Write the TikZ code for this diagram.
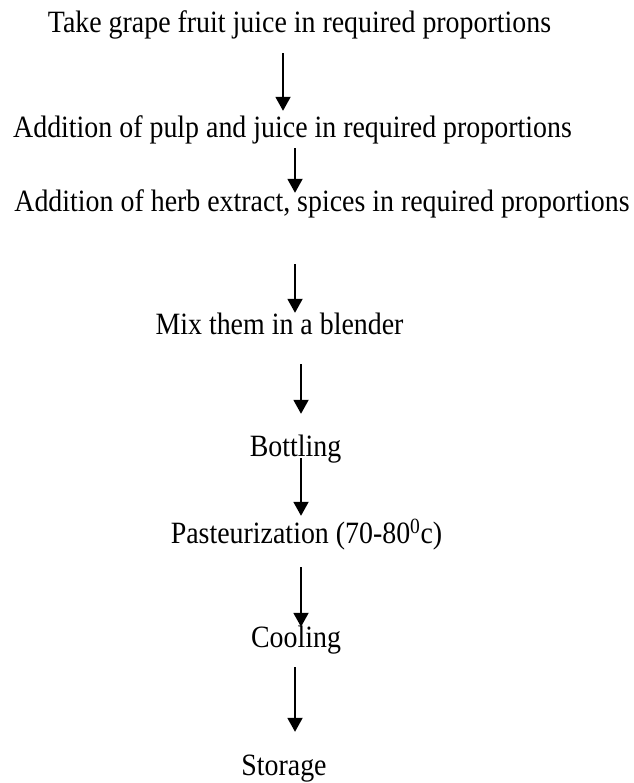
\documentclass[tikz,border=0pt]{standalone}
\usepackage{fontspec}
\setmainfont[FakeStretch=0.9]{Liberation Serif}
\usepackage{tikz}
\usetikzlibrary{arrows.meta}
\tikzstyle{procText} = [inner sep=0pt, text height=20pt, text depth=6pt,
   anchor=base, font=\fontsize{31}{37}\selectfont]
\tikzstyle{flowArrow} = [line width=1.9pt, -{Triangle[width=15pt,length=14pt]}]

\begin{document}
\begin{tikzpicture}[x=1pt,y=-1pt]
			\useasboundingbox (0,0) rectangle (633,783);
			\node[procText] (a) at (299.5,33) {Take grape fruit juice in required proportions};
			\node[procText] (b) at (292.5,138) {Addition of pulp and juice in required proportions};
			\node[procText] (c) at (322,212) {Addition of herb extract, spices in required proportions};
			\node[procText] (d) at (279.5,334) {Mix them in a blender};
			\node[procText] (e) at (295.5,456) {Bottling};
			\node[procText] (f) at (306.5,543) {Pasteurization (70-80\textsuperscript{0}c)};
			\node[procText] (g) at (296,647) {Cooling};
			\node[procText] (h) at (284,775) {Storage};

			% arrows sit a bit off the text centres, so pin their x
			\draw[flowArrow, shorten <=14pt, shorten >=7pt] (a.south -| 283,0) -- (b.north -| 283,0);
			\draw[flowArrow, shorten <=4pt, shorten >=-1pt] (b.south -| 295,0) -- (c.north -| 295,0);
			\draw[flowArrow, shorten <=46pt, shorten >=1pt] (c.south -| 295,0) -- (d.north -| 295,0);
			\draw[flowArrow, shorten <=24pt, shorten >=22pt] (d.south -| 301,0) -- (e.north -| 301,0);
			\draw[flowArrow, shorten <=-4pt, shorten >=7pt] (e.south -| 301,0) -- (f.north -| 301,0);
			\draw[flowArrow, shorten <=18pt, shorten >=0pt] (f.south -| 301,0) -- (g.north -| 301,0);
			\draw[flowArrow, shorten <=14pt, shorten >=23pt] (g.south -| 295,0) -- (h.north -| 295,0);
		\end{tikzpicture}
\end{document}
